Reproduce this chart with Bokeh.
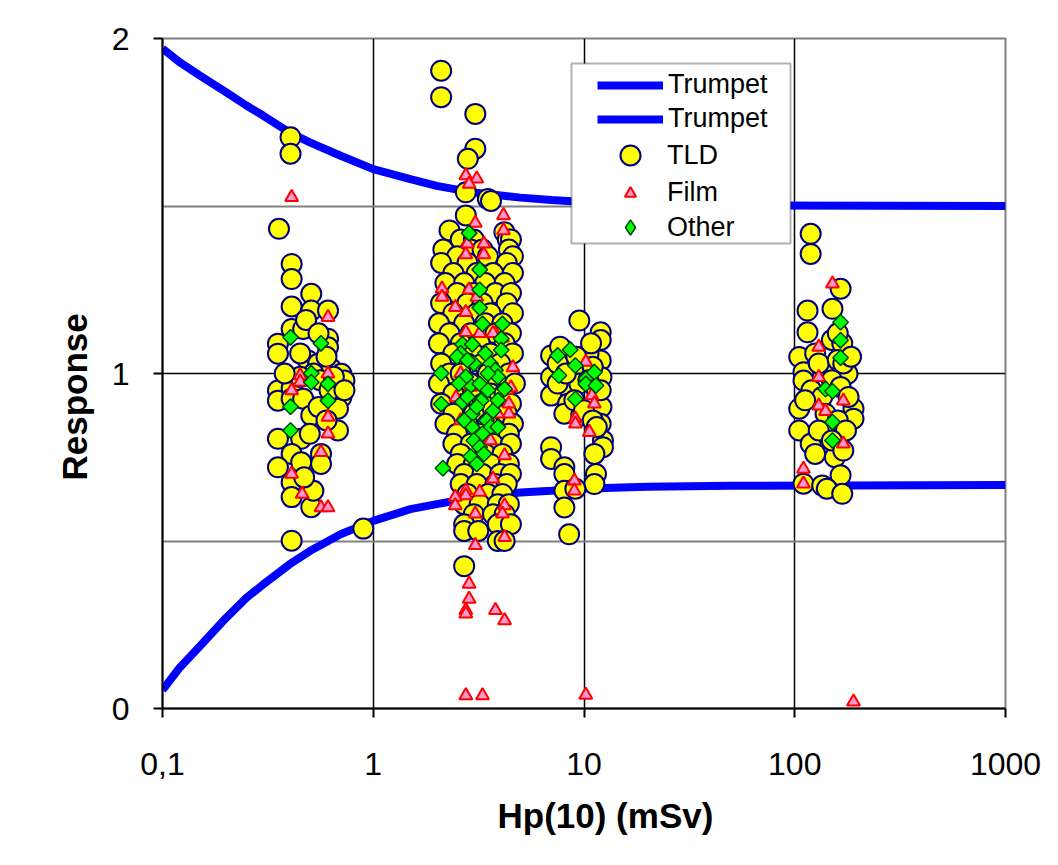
import numpy as np
from bokeh.plotting import figure
from bokeh.models import Range1d, FixedTicker, Span, Legend, LegendItem, BoxAnnotation, Title
from bokeh.embed import file_html
from bokeh.resources import INLINE

# ---- acceptance limits ("trumpet") ----
trumpet_hp = [0.1, 0.12, 0.15, 0.2, 0.25, 0.3, 0.4, 0.5, 0.7, 1, 1.5, 2, 3, 5, 7, 10, 15, 20, 50, 1000]
trumpet_upper = [1.97, 1.93, 1.89, 1.84, 1.80, 1.77, 1.72, 1.69, 1.65, 1.61, 1.58, 1.56, 1.54, 1.525,
                 1.518, 1.512, 1.508, 1.505, 1.502, 1.50]
trumpet_lower = [0.055, 0.12, 0.185, 0.27, 0.33, 0.37, 0.43, 0.47, 0.52, 0.56, 0.595, 0.61, 0.63, 0.645,
                 0.65, 0.656, 0.66, 0.662, 0.665, 0.667]

# ---- TLD results, per dose group ----
tld_hp_a = [0.405, 0.405, 0.357, 0.41, 0.41, 0.41, 0.508, 0.508, 0.61, 0.41, 0.465, 0.353, 0.353, 0.61,
            0.61, 0.49, 0.547, 0.632, 0.706, 0.73, 0.706, 0.353, 0.353, 0.41, 0.41, 0.465, 0.508, 0.68,
            0.68, 0.353, 0.455, 0.41, 0.565, 0.455, 0.565, 0.353, 0.41, 0.41, 0.508, 0.41,
            0.45, 0.52, 0.56, 0.62, 0.45, 0.55, 0.60, 0.50, 0.60, 0.48, 0.55, 0.38, 0.65, 0.52, 0.47,
            0.73, 0.897]
tld_resp_a = [1.705, 1.656, 1.432, 1.327, 1.282, 1.200, 1.238, 1.188, 1.188, 1.133, 1.133, 1.089, 1.059,
              1.104, 1.078, 1.039, 1.029, 1.014, 0.999, 0.979, 0.929, 0.949, 0.919, 0.955, 0.925, 0.925,
              0.875, 0.895, 0.830, 0.805, 0.805, 0.760, 0.760, 0.735, 0.730, 0.720, 0.675, 0.631, 0.601,
              0.501, 1.060, 1.000, 0.980, 0.950, 0.990, 0.900, 0.860, 0.820, 1.050, 1.160, 1.120, 1.000,
              0.990, 0.650, 0.690, 0.950, 0.537]

tld_hp_b = [2.10, 2.10, 3.05, 3.05, 2.81, 2.75, 3.50, 3.62, 2.75, 2.30, 4.19, 4.35,
            2.6, 3.0, 4.5,
            2.15, 2.9, 3.3, 4.4,
            2.5, 3.5, 4.6,
            2.10, 2.8, 4.3,
            2.4, 3.1, 3.7, 4.6,
            2.2, 2.7, 3.4, 4.2,
            2.5, 3.0, 3.8, 4.5,
            2.1, 2.8, 3.3, 4.3,
            2.4, 3.1, 3.6, 4.6,
            2.05, 2.7, 3.4, 4.1,
            2.3, 2.9, 3.8, 4.5,
            2.05, 2.6, 3.2, 4.2,
            2.4, 3.0, 3.6, 4.6,
            2.1, 2.8, 3.3, 4.0,
            2.3, 2.6, 3.5, 4.4,
            2.05, 2.9, 3.9, 4.7,
            2.4, 3.1, 3.6, 4.2,
            2.1, 2.7, 3.3, 4.5,
            2.4, 3.0, 3.9, 4.3,
            2.2, 2.8, 3.5, 4.6,
            2.5, 3.2, 4.0, 4.4,
            2.4, 2.9, 3.7, 4.5,
            2.6, 3.4, 4.1,
            2.5, 3.0, 3.6, 4.4,
            2.7, 3.3, 4.0, 4.5,
            2.6, 3.1, 3.8, 4.3,
            2.8, 3.5, 4.1,
            2.7, 3.2, 3.9, 4.4,
            3.0, 3.7, 4.2,
            2.7, 3.9, 4.5,
            2.7, 3.15,
            3.9, 4.2,
            2.7]
tld_resp_b = [1.904, 1.825, 1.775, 1.671, 1.641, 1.541, 1.521, 1.515, 1.472, 1.427, 1.422, 1.400,
              1.40, 1.40, 1.40,
              1.37, 1.37, 1.37, 1.37,
              1.35, 1.35, 1.35,
              1.33, 1.33, 1.33,
              1.30, 1.30, 1.30, 1.30,
              1.27, 1.27, 1.27, 1.27,
              1.24, 1.24, 1.24, 1.24,
              1.21, 1.21, 1.21, 1.21,
              1.18, 1.18, 1.18, 1.18,
              1.15, 1.15, 1.15, 1.15,
              1.12, 1.12, 1.12, 1.12,
              1.09, 1.09, 1.09, 1.09,
              1.06, 1.06, 1.06, 1.06,
              1.03, 1.03, 1.03, 1.03,
              1.00, 1.00, 1.00, 1.00,
              0.97, 0.97, 0.97, 0.97,
              0.94, 0.94, 0.94, 0.94,
              0.91, 0.91, 0.91, 0.91,
              0.88, 0.88, 0.88, 0.88,
              0.85, 0.85, 0.85, 0.85,
              0.82, 0.82, 0.82, 0.82,
              0.79, 0.79, 0.79, 0.79,
              0.76, 0.76, 0.76,
              0.73, 0.73, 0.73, 0.73,
              0.70, 0.70, 0.70, 0.70,
              0.67, 0.67, 0.67, 0.67,
              0.64, 0.64, 0.64,
              0.61, 0.61, 0.61, 0.61,
              0.58, 0.58, 0.58,
              0.55, 0.55, 0.55,
              0.53, 0.53,
              0.50, 0.50,
              0.425]

tld_hp_c = [9.5, 12.0, 12.0, 6.98, 8.07, 12.0, 12.1, 6.98, 6.98, 8.4, 8.4, 8.07, 9.7, 12.1, 12.0,
            12.3, 12.3, 11.2, 6.98, 6.98, 8.07, 8.07, 11.4, 11.2, 8.07, 8.07, 8.5, 9.1,
            7.5, 9.0, 9.5, 10.5, 11.0, 10.5, 11.5, 7.5, 9.0, 10.0, 11.0, 12.0, 7.7, 10.8, 11.5, 9.2, 8.2]
tld_resp_c = [1.158, 1.123, 1.100, 1.054, 1.069, 1.039, 0.989, 0.989, 0.934, 0.959, 0.910, 0.880, 0.875,
              0.900, 0.850, 0.800, 0.780, 0.760, 0.780, 0.745, 0.720, 0.700, 0.700, 0.670, 0.650, 0.600,
              0.520, 0.656,
              1.03, 1.00, 0.97, 1.06, 1.02, 0.98, 0.95, 0.97, 0.92, 0.89, 0.86, 0.95, 1.08, 1.09, 0.84,
              1.05, 1.00]

tld_hp_d = [119, 119, 165, 115, 151, 115, 105, 110, 110, 140, 178, 150, 168, 105, 105, 119, 190, 190,
            155, 165, 110, 135, 142, 168,
            125, 130, 160, 170, 120, 135, 150, 165, 180, 112, 140, 160, 175, 130, 150, 170, 125, 185, 160]
tld_resp_d = [1.417, 1.357, 1.253, 1.188, 1.193, 1.123, 1.049, 1.004, 0.979, 1.014, 0.999, 1.100, 1.090,
              0.895, 0.830, 0.790, 0.895, 0.865, 0.750, 0.696, 0.671, 0.666, 0.656, 0.641,
              1.06, 1.03, 1.04, 1.03, 0.95, 0.93, 0.98, 0.96, 0.93, 0.92, 0.88, 0.86, 0.83, 0.83, 0.80,
              0.77, 0.76, 1.05, 1.12]

# ---- film results ----
film_hp_a = [0.41, 0.61, 0.45, 0.45, 0.41, 0.61, 0.61, 0.61, 0.565, 0.41, 0.46, 0.565, 0.61]
film_resp_a = [1.526, 1.168, 0.994, 0.975, 0.949, 0.999, 0.870, 0.820, 0.765, 0.700, 0.640, 0.600, 0.600]

film_hp_b = [2.75, 3.1, 2.85, 4.15, 4.15, 3.05, 2.8, 3.35, 2.75, 3.35, 2.12, 2.12, 2.85, 3.1, 2.45,
             2.75, 2.75, 3.2, 3.8, 3.7, 4.1, 4.6, 4.5, 2.47, 2.6, 4.4, 4.4, 2.6, 2.9, 4.3,
             3.9, 3.6, 4.2, 3.7, 2.75, 2.75, 3.2, 2.45, 2.45, 3.05, 4.2, 4.1, 4.2, 3.05, 2.85,
             2.85, 2.75, 2.75, 3.8, 4.2, 2.75, 3.3]
film_resp_b = [1.591, 1.581, 1.566, 1.472, 1.427, 1.449, 1.387, 1.387, 1.355, 1.355, 1.253, 1.228, 1.250,
               1.228, 1.198, 1.183, 1.123, 1.120, 1.120, 1.120, 1.107, 1.018, 0.958, 0.928, 0.860, 0.910,
               0.880, 1.000, 0.960, 0.950, 0.880, 0.800, 0.755, 0.686, 0.651, 0.636, 0.646, 0.631, 0.606,
               0.581, 0.606, 0.581, 0.511, 0.487, 0.372, 0.327, 0.293, 0.283, 0.293, 0.263, 0.039, 0.039]

film_hp_c = [10.2, 10.9, 11.2, 9.1, 9.1, 10.6, 9.0, 9.0, 10.2]
film_resp_c = [1.034, 0.934, 0.910, 0.865, 0.850, 0.825, 0.680, 0.650, 0.040]

film_hp_d = [151, 130, 130, 130, 140, 170, 170, 110, 110, 190]
film_resp_d = [1.268, 1.079, 0.989, 0.904, 0.887, 0.919, 0.790, 0.715, 0.671, 0.020]

# ---- other dosemeter types ----
other_hp_a = [0.405, 0.565, 0.508, 0.508, 0.61, 0.61, 0.405, 0.405]
other_resp_a = [1.108, 1.090, 1.001, 0.974, 0.969, 0.919, 0.901, 0.830]

other_hp_b = [2.85, 3.2, 3.2, 3.2, 3.3, 4.1, 4.05, 2.65, 2.95, 4.05, 2.6, 2.1, 3.0, 3.6, 3.8, 2.9, 3.2,
              4.2, 2.65, 3.25, 2.1, 2.95, 3.7, 3.45, 2.95, 3.6, 3.3, 3.0, 3.2, 2.9, 2.14,
              2.5, 2.8, 3.4, 3.9, 2.75, 3.5, 2.8, 3.9, 3.1, 2.7, 3.9, 3.35, 3.1, 3.5, 2.55]
other_resp_b = [1.419, 1.310, 1.250, 1.196, 1.148, 1.148, 1.104, 1.087, 1.087, 1.070, 1.060, 1.001, 1.030,
                1.030, 1.010, 0.964, 0.969, 0.954, 0.915, 0.919, 0.909, 0.879, 0.889, 0.860, 0.840, 0.840,
                0.820, 0.800, 0.780, 0.752, 0.717,
                1.05, 1.04, 1.06, 0.99, 0.99, 0.95, 0.93, 0.92, 0.90, 0.86, 0.84, 0.76, 0.73, 1.00, 0.97]

other_hp_c = [7.5, 8.6, 9.1, 7.6, 10.2, 11.2, 10.2, 11.4, 9.1]
other_resp_c = [1.054, 1.071, 1.024, 0.994, 0.984, 1.004, 0.969, 0.964, 0.924]

other_hp_d = [165, 165, 165, 140, 151, 151, 151]
other_resp_d = [1.153, 1.099, 1.047, 0.954, 0.947, 0.855, 0.800]

x_ticks = [0.1, 1, 10, 100, 1000]
x_tick_labels = ["0,1", "1", "10", "100", "1000"]
y_ticks = [0, 1, 2]

tld_hp = tld_hp_a + tld_hp_b + tld_hp_c + tld_hp_d
tld_resp = tld_resp_a + tld_resp_b + tld_resp_c + tld_resp_d
film_hp = film_hp_a + film_hp_b + film_hp_c + film_hp_d
film_resp = film_resp_a + film_resp_b + film_resp_c + film_resp_d
other_hp = other_hp_a + other_hp_b + other_hp_c + other_hp_d
other_resp = other_resp_a + other_resp_b + other_resp_c + other_resp_d

FONT = "Liberation Sans"

p = figure(width=1058, height=865, x_axis_type="log",
           x_range=Range1d(0.1, 1000), y_range=Range1d(0, 2),
           min_border_left=162, min_border_right=53, min_border_top=38, min_border_bottom=157,
           output_backend="svg", toolbar_location=None,
           background_fill_color="white", border_fill_color="white")

p.outline_line_color = "#808080"
p.outline_line_width = 2

# axes
for ax in (p.xaxis, p.yaxis):
    ax.axis_line_color = "black"
    ax.axis_line_width = 2
    ax.major_tick_line_color = "black"
    ax.major_tick_line_width = 2
    ax.major_tick_out = 9
    ax.major_tick_in = 0
    ax.minor_tick_line_color = None
    ax.major_label_text_font = FONT
    ax.major_label_text_font_size = "32px"
    ax.major_label_text_color = "black"

p.xaxis.ticker = FixedTicker(ticks=x_ticks)
p.xaxis.major_label_overrides = {t: s for t, s in zip(x_ticks, x_tick_labels)}
p.xaxis.major_label_standoff = 35
p.yaxis.ticker = FixedTicker(ticks=y_ticks)
p.yaxis.major_label_standoff = 24

# axis titles, set as side titles so they can sit off-centre
title_style = dict(text_font=FONT, text_font_size="35px", text_font_style="bold",
                   text_color="black", align="left")
p.add_layout(Title(text="Hp(10) (mSv)", offset=335, standoff=32, **title_style), "below")
p.add_layout(Title(text="Response", offset=228, standoff=30, **title_style), "left")

# grid
p.xgrid.ticker = FixedTicker(ticks=[1, 10, 100])
p.xgrid.grid_line_color = "black"
p.xgrid.grid_line_width = 1.5
p.ygrid.ticker = FixedTicker(ticks=[0.5, 1.5])
p.ygrid.grid_line_color = "#808080"
p.ygrid.grid_line_width = 2
p.add_layout(Span(location=1, dimension="width", line_color="black", line_width=1.5, level="underlay"))

# trumpet limits
up = p.line(trumpet_hp, trumpet_upper, line_color="#0000FF", line_width=8)
lo = p.line(trumpet_hp, trumpet_lower, line_color="#0000FF", line_width=8)

# measured responses
tld = p.scatter(tld_hp, tld_resp, marker="circle", size=20, fill_color="#FFFF00",
                line_color="#000080", line_width=2)
film = p.scatter(film_hp, film_resp, marker="triangle", size=13, fill_color="#FF99CC",
                 line_color="#FF0000", line_width=2)
other = p.scatter(other_hp, other_resp, marker="square", angle=np.pi / 4, size=11,
                  fill_color="#00FF00", line_color="#004000", line_width=1.5)
# hidden diamond renderer that only supplies the legend swatch
other_key = p.scatter(other_hp, other_resp, marker="diamond", fill_color="#00FF00",
                      line_color="#004000", line_width=1.5, visible=False)

# legend frame
p.add_layout(BoxAnnotation(left=571, right=790, top=63, bottom=243,
                           left_units="canvas", right_units="canvas",
                           top_units="canvas", bottom_units="canvas",
                           fill_color="white", fill_alpha=1.0,
                           line_color="black", line_width=2))

legend_style = dict(orientation="vertical", label_text_font=FONT, label_text_font_size="27px",
                    label_text_color="black", padding=0, margin=0, spacing=3,
                    background_fill_alpha=0, border_line_alpha=0,
                    inactive_fill_alpha=0, click_policy="none")


def add_key(items, vx, vy, gw, gh, standoff):
    p.add_layout(Legend(items=items, location=(vx, vy), glyph_width=gw, glyph_height=gh,
                        label_height=gh, label_standoff=standoff, **legend_style), "center")


add_key([LegendItem(label="Trumpet", renderers=[up]),
         LegendItem(label="Trumpet", renderers=[lo])], 435, 574, 66, 30, 5)
add_key([LegendItem(label="TLD", renderers=[tld])], 443, 528, 50, 50, 12)
add_key([LegendItem(label="Film", renderers=[film])], 454, 500, 28, 28, 23)
add_key([LegendItem(label="Other", renderers=[other_key])], 449, 462, 38, 38, 18)

open("out.html", "w").write(file_html(p, INLINE))
